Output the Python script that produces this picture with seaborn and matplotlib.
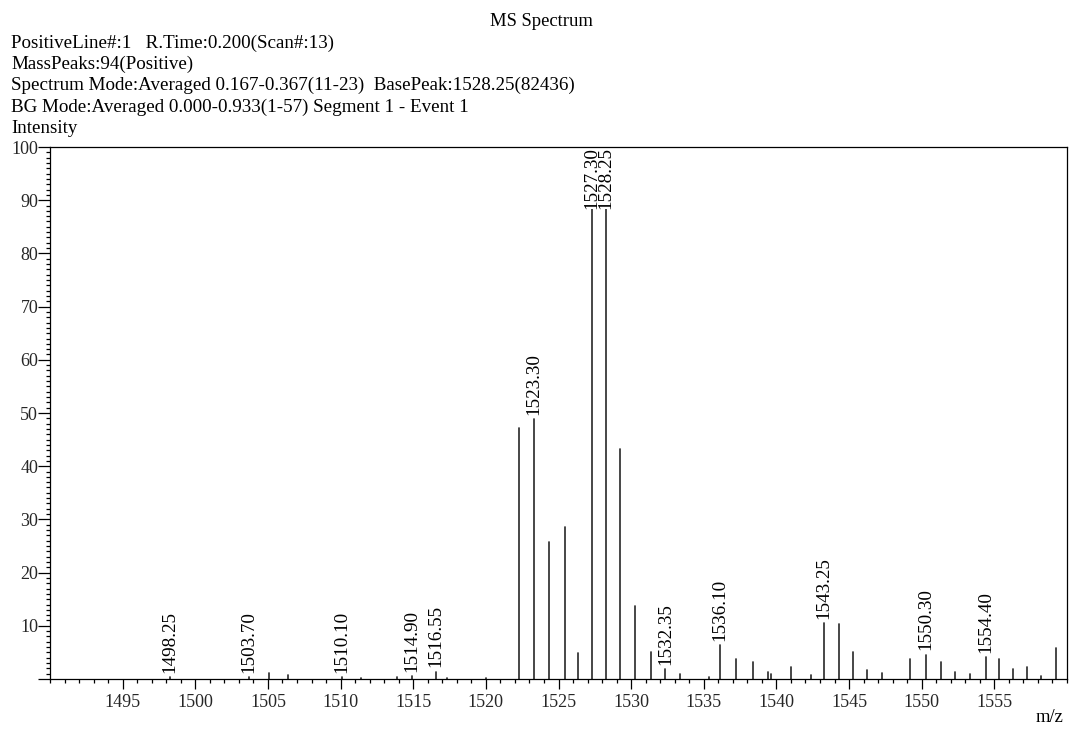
import numpy as np
import pandas as pd
import matplotlib
matplotlib.use("Agg")
import matplotlib.pyplot as plt
from matplotlib.ticker import MultipleLocator, FixedLocator
import seaborn as sns

# Peak list: m/z and relative intensity (% of base peak)
mz = [1498.25, 1503.70, 1505.10, 1506.35, 1510.10, 1511.40, 1513.90, 1514.90,
      1516.55, 1517.30, 1520.00, 1522.30, 1523.30, 1524.35, 1525.45, 1526.35,
      1527.30, 1528.25, 1529.25, 1530.25, 1531.35, 1532.35, 1533.35, 1535.35,
      1536.10, 1537.25, 1538.40, 1539.40, 1539.65, 1541.00, 1542.35, 1543.25,
      1544.30, 1545.25, 1546.25, 1547.25, 1549.20, 1550.30, 1551.35, 1552.30,
      1553.35, 1554.40, 1555.35, 1556.30, 1557.25, 1558.20, 1559.25]
intensity = [0.3, 0.3, 1.1, 0.8, 0.4, 0.2, 0.3, 0.6,
             1.4, 0.2, 0.2, 47.2, 48.9, 25.8, 28.6, 4.8,
             99.8, 100.0, 43.2, 13.7, 5.1, 1.9, 0.9, 0.4,
             6.4, 3.7, 3.2, 1.4, 0.9, 2.2, 0.8, 10.5,
             10.4, 5.0, 1.7, 1.1, 3.7, 4.6, 3.2, 1.4,
             1.0, 4.1, 3.8, 1.9, 2.2, 0.6, 5.8]
labeled_peaks = [1498.25, 1503.70, 1510.10, 1514.90, 1516.55, 1523.30, 1527.30,
                 1528.25, 1532.35, 1536.10, 1543.25, 1550.30, 1554.40]

header_lines = [
    "PositiveLine#:1   R.Time:0.200(Scan#:13)",
    "MassPeaks:94(Positive)",
    "Spectrum Mode:Averaged 0.167-0.367(11-23)  BasePeak:1528.25(82436)",
    "BG Mode:Averaged 0.000-0.933(1-57) Segment 1 - Event 1",
    "Intensity",
]
x_major = [1495, 1500, 1505, 1510, 1515, 1520, 1525, 1530, 1535, 1540, 1545, 1550, 1555]
y_major = [0, 10, 20, 30, 40, 50, 60, 70, 80, 90, 100]

sns.set_style("ticks")
serif = ["Liberation Serif", "DejaVu Serif"]
plt.rcParams["font.family"] = serif
plt.rcParams["text.color"] = "black"

# each peak becomes a vertical stick: baseline point + apex point
stick = pd.DataFrame({
    "peak": np.repeat(np.arange(len(mz)), 2),
    "mz": np.repeat(mz, 2),
    "intensity": np.ravel(np.column_stack([np.zeros(len(intensity)), intensity])),
})

fig = plt.figure(figsize=(10.71, 7.29), dpi=100)
ax = fig.add_axes([50 / 1071, 1 - 679 / 729, 1017 / 1071, 532 / 729])

sns.lineplot(data=stick, x="mz", y="intensity", units="peak", estimator=None,
             color="#303030", linewidth=1.25, ax=ax, legend=False)

ax.set_xlim(1490, 1560)
ax.set_ylim(0, 100)
ax.set_xlabel("")
ax.set_ylabel("")

# peak annotations, rotated m/z values above each labelled stick
pk = dict(zip(mz, intensity))
for m in labeled_peaks:
    h = pk[m]
    if h > 85:
        ax.annotate(f"{m:.2f}", xy=(m, 100), xytext=(0, 0), textcoords="offset points",
                    rotation=90, ha="center", va="top", fontsize=13.8,
                    zorder=2.2, annotation_clip=False,
                    bbox=dict(boxstyle="square,pad=0", fc="white", ec="none"))
    else:
        ax.annotate(f"{m:.2f}", xy=(m, h), xytext=(0, 3), textcoords="offset points",
                    rotation=90, ha="center", va="bottom", fontsize=13.8, zorder=2.2)

# axis ticks
ax.xaxis.set_major_locator(FixedLocator(x_major))
ax.xaxis.set_minor_locator(MultipleLocator(1))
ax.yaxis.set_major_locator(FixedLocator(y_major))
ax.yaxis.set_minor_locator(MultipleLocator(1))
ax.set_xticklabels([str(v) for v in x_major])
ax.set_yticklabels(["" if v == 0 else str(v) for v in y_major])
ax.tick_params(axis="x", which="major", direction="out", length=7.5, width=0.9,
               labelsize=13, pad=3.5, color="black")
ax.tick_params(axis="x", which="minor", direction="out", length=3, width=0.9, color="black")
ax.tick_params(axis="y", which="major", direction="out", length=8.5, width=0.9,
               labelsize=13, pad=0, color="black")
ax.tick_params(axis="y", which="minor", direction="out", length=3, width=0.9, color="black")

for side in ["left", "right", "top", "bottom"]:
    ax.spines[side].set_visible(True)
    ax.spines[side].set_color("black")
    ax.spines[side].set_linewidth(0.9)

# header block
fig.text(541 / 1071, 1 - 21 / 729, "MS Spectrum", ha="center", va="center", fontsize=13.4)
for i, line in enumerate(header_lines):
    fig.text(11 / 1071, 1 - (43 + 21.3 * i) / 729, line, ha="left", va="center", fontsize=13.7)
fig.text(1050 / 1071, 1 - 718 / 729, "m/z", ha="center", va="center", fontsize=13.4)

fig.savefig("out.png", dpi=100, facecolor="white")
